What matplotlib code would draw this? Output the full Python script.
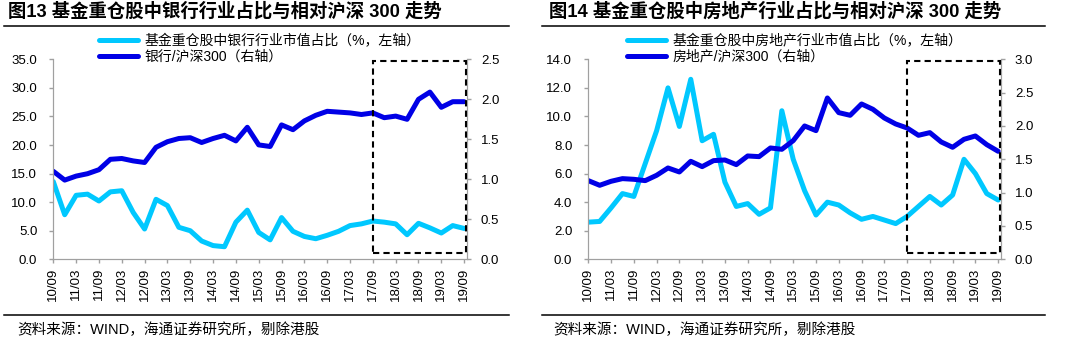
import numpy as np
import matplotlib.pyplot as plt
from matplotlib.patches import Rectangle
from matplotlib.lines import Line2D

plt.rcParams['font.family'] = ['Liberation Sans', 'Noto Sans CJK SC']

W, H = 1069, 344

tick_labels = ['10/09', '11/03', '11/09', '12/03', '12/09', '13/03', '13/09',
               '14/03', '14/09', '15/03', '15/09', '16/03', '16/09', '17/03',
               '17/09', '18/03', '18/09', '19/03', '19/09']

# quarterly points, 10/09 .. 19/09
bank_share = [13.6, 7.8, 11.2, 11.4, 10.2, 11.8, 12.0, 8.2, 5.3, 10.5, 9.4, 5.6,
              5.0, 3.2, 2.4, 2.2, 6.5, 8.6, 4.7, 3.4, 7.3, 4.9, 4.0, 3.6, 4.2,
              4.9, 5.9, 6.2, 6.7, 6.5, 6.2, 4.3, 6.3, 5.5, 4.6, 5.9, 5.4]
bank_rel = [1.10, 0.99, 1.04, 1.07, 1.12, 1.25, 1.26, 1.23, 1.21, 1.40, 1.47, 1.51,
            1.52, 1.46, 1.51, 1.55, 1.48, 1.65, 1.43, 1.41, 1.68, 1.62, 1.73, 1.80,
            1.85, 1.84, 1.83, 1.81, 1.83, 1.77, 1.79, 1.75, 2.00, 2.09, 1.90, 1.97, 1.97]

estate_share = [2.6, 2.65, 3.6, 4.6, 4.4, 6.7, 9.0, 12.0, 9.3, 12.6, 8.3, 8.75,
                5.4, 3.7, 3.9, 3.15, 3.6, 10.4, 7.0, 4.8, 3.1, 4.0, 3.8, 3.25, 2.8,
                3.0, 2.75, 2.5, 3.0, 3.7, 4.4, 3.8, 4.5, 7.0, 6.0, 4.6, 4.15]
estate_rel = [1.18, 1.11, 1.17, 1.21, 1.20, 1.18, 1.26, 1.37, 1.31, 1.47, 1.39, 1.48,
              1.49, 1.42, 1.55, 1.54, 1.67, 1.65, 1.78, 2.00, 1.93, 2.42, 2.20, 2.16,
              2.33, 2.25, 2.12, 2.03, 1.97, 1.86, 1.90, 1.76, 1.68, 1.80, 1.85, 1.72, 1.62]

LIGHT = '#00C8FF'
DARK = '#0000E6'
GREY = '#A0A0A0'


def style_axis(ax):
    for s in ['left', 'right', 'bottom']:
        ax.spines[s].set_color(GREY)
    ax.spines['top'].set_visible(False)
    ax.tick_params(colors=GREY, labelcolor='black', length=3, width=1,
                   labelsize=9.5)


def panel(px0, px1, title, share, rel, lmax, lstep, rmax, box_top, labels,
          leg_x, title_x, foot_x, line_x):
    left = px0 / W
    width = (px1 - px0) / W
    ax = fig.add_axes([left, (H - 259.3) / H, width, 200 / H])
    ax2 = ax.twinx()
    x = np.arange(len(share))

    ax.plot(x, share, color=LIGHT, lw=3.6, solid_joinstyle='round',
            solid_capstyle='round', label=labels[0])
    ax2.plot(x, rel, color=DARK, lw=3.6, solid_joinstyle='round',
             solid_capstyle='round', label=labels[1])

    ax.set_xlim(0, 36.25)
    ax.set_ylim(0, lmax)
    ax2.set_ylim(0, rmax)
    ax.set_yticks(np.arange(0, lmax + 0.01, lstep))
    ax.set_yticklabels(['%.1f' % v for v in np.arange(0, lmax + 0.01, lstep)])
    ax2.set_yticks(np.arange(0, rmax + 0.01, 0.5))
    ax2.set_yticklabels(['%.1f' % v for v in np.arange(0, rmax + 0.01, 0.5)])
    ax.set_xticks(np.arange(0, 37, 2))
    ax.set_xticklabels(tick_labels, rotation=90)

    style_axis(ax)
    style_axis(ax2)
    ax.tick_params(axis='y', pad=8.5)
    ax2.tick_params(axis='y', pad=7)
    ax.tick_params(axis='x', pad=3)

    box = Rectangle((28, 0.075 * rmax / 2.5), 36.15 - 28, box_top - 0.075 * rmax / 2.5,
                    fill=False, ec='black', lw=1.5, ls=(0, (3, 2)), zorder=5)
    ax2.add_patch(box)

    h1, l1 = ax.get_legend_handles_labels()
    h2, l2 = ax2.get_legend_handles_labels()
    ax2.legend(h1 + h2, l1 + l2, loc='upper left', bbox_to_anchor=(leg_x, 1.125),
               frameon=False, fontsize=10, handlelength=2.8, handletextpad=0.45,
               labelspacing=0.1, borderpad=0, borderaxespad=0)

    fig.text(title_x / W, 1 - 11.5 / H, title, fontsize=13.2, fontweight='bold',
             ha='left', va='center')
    fig.add_artist(Line2D([line_x[0] / W, line_x[1] / W], [1 - 26 / H, 1 - 26 / H],
                          transform=fig.transFigure, color='black', lw=1.1))
    fig.add_artist(Line2D([line_x[0] / W, line_x[1] / W], [1 - 315 / H, 1 - 315 / H],
                          transform=fig.transFigure, color='black', lw=1.1))
    fig.text(foot_x / W, 1 - 330 / H, '资料来源：WIND，海通证券研究所，剔除港股',
             fontsize=10.5, ha='left', va='center')


fig = plt.figure(figsize=(W / 100, H / 100), dpi=100)

panel(53.3, 467, '图13 基金重仓股中银行行业占比与相对沪深 300 走势',
      bank_share, bank_rel, 35, 5, 2.5, 2.48,
      ['基金重仓股中银行行业市值占比（%，左轴）', '银行/沪深300（右轴）'],
      0.111, 8, 17, (4, 509))
panel(588.3, 1001, '图14 基金重仓股中房地产行业占比与相对沪深 300 走势',
      estate_share, estate_rel, 14, 2, 3.0, 2.97,
      ['基金重仓股中房地产行业市值占比（%，左轴）', '房地产/沪深300（右轴）'],
      0.094, 549, 553, (542, 1045))

fig.savefig('out.png', dpi=100)
